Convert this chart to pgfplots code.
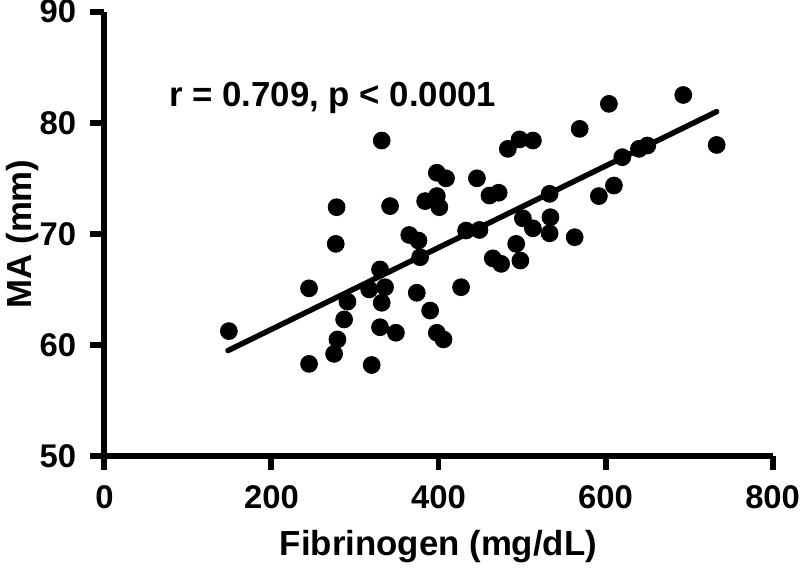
\documentclass[border=0pt]{standalone}
\usepackage{fontspec}
\setmainfont{Liberation Sans}
\usepackage{pgfplots}
\pgfplotsset{compat=1.18}
\begin{document}
\begin{tikzpicture}
\begin{axis}[
  at={(0,0)}, anchor=south west,
  scale only axis, width=336pt, height=223.5pt,
  xmin=0, xmax=800, ymin=50, ymax=90,
  xtick={0,200,400,600,800}, ytick={50,60,70,80,90},
  axis x line*=bottom, axis y line*=left,
  axis line style={line width=3pt, -},
  tick align=outside, major tick length=7pt,
  tick style={line width=3pt, black},
  /pgf/number format/assume math mode=true,
  tick label style={font=\fontsize{16.5}{16.5}\selectfont\bfseries},
  xticklabel style={anchor=north, inner sep=0pt, yshift=-7.5pt},
  yticklabel style={anchor=east, inner sep=0pt, xshift=-7pt},
  xlabel={Fibrinogen (mg/dL)}, ylabel={MA (mm)},
  every axis x label/.style={at={(axis description cs:0.5,0)}, anchor=center, yshift=-45.5pt, font=\fontsize{17.5}{17.5}\selectfont\bfseries},
  every axis y label/.style={at={(axis description cs:0,0.5)}, xshift=-41pt, rotate=90, anchor=center, font=\fontsize{17.5}{17.5}\selectfont\bfseries},
  clip=false,
]
\addplot[only marks, mark=*, mark size=4.25pt, black] coordinates {
(149,61.25) (245,58.3) (245,65.1) (278,72.4) (277,69.1) (279,60.5) (275,59.2)
(287,62.3) (291,63.9) (332,78.4) (320,58.2) (330,66.8) (317,65.0) (336,65.2)
(332,63.8) (330,61.6) (349,61.1) (342,72.5) (374,64.7) (390,63.1) (398,61.1)
(406,60.5) (365,69.9) (376,69.4) (378,67.9) (384,72.95) (398,73.4) (401,72.4)
(398,75.5) (409,75.0) (427,65.2) (433,70.3) (446,75.0) (449,70.35) (461,73.45)
(472,73.7) (483,77.65) (497,78.5) (513,78.4) (465,67.8) (475,67.3) (493,69.1)
(498,67.6) (501,71.4) (513,70.5) (533,73.6) (534,71.5) (533,70.05) (563,69.7)
(569,79.45) (592,73.4) (610,74.35) (604,81.7) (620,76.9) (640,77.65) (650,77.95)
(693,82.5) (733,78.0)
};
\addplot[black, line width=2.75pt, line cap=round] coordinates {(148,59.5) (733,81.0)};
\node[anchor=base west, inner sep=0pt, font=\fontsize{17.5}{17.5}\selectfont\bfseries]
  at (axis cs:77,81.5) {r = 0.709, p < 0.0001};
\end{axis}
\path (-51pt,-54.5pt) rectangle (349pt,229pt);
\end{tikzpicture}
\end{document}
